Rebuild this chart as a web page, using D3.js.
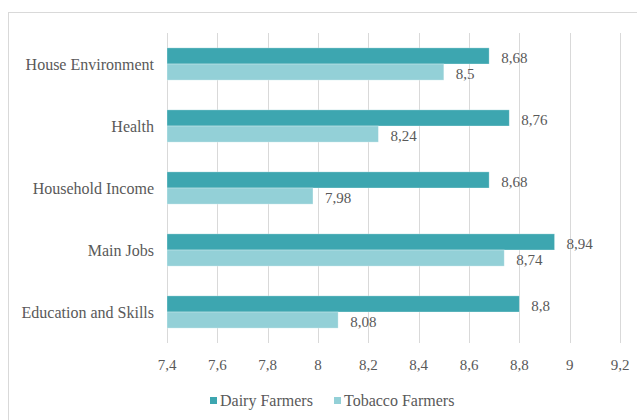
<!DOCTYPE html>
<html>
<head>
<meta charset="utf-8">
<script src="https://cdn.jsdelivr.net/npm/d3@7"></script>
<style>
  body { margin: 0; background: #fff; }
</style>
</head>
<body>
<div id="chart"></div>
<script>
// chart data
var categories = ['House Environment', 'Health', 'Household Income', 'Main Jobs', 'Education and Skills'];
var seriesNames = ['Dairy Farmers', 'Tobacco Farmers'];
var dairy = [8.68, 8.76, 8.68, 8.94, 8.8];
var tobacco = [8.5, 8.24, 7.98, 8.74, 8.08];
var tickValues = [7.4, 7.6, 7.8, 8, 8.2, 8.4, 8.6, 8.8, 9, 9.2];

var colors = ['#3DA6B0', '#93D0D7'];
var width = 637, height = 420;
var margin = { left: 167, right: 17, top: 33, bottom: 77 };
var serif = '"Liberation Serif", "Times New Roman", serif';

var svg = d3.select('#chart').append('svg')
    .attr('width', width)
    .attr('height', height);

// helper so every label gets the same font
function label(sel, size) {
    return sel.style('font-family', serif)
        .style('font-size', size + 'px')
        .style('fill', '#595959');
}

// outer frame
svg.append('rect')
    .attr('x', 8.5).attr('y', 12.5)
    .attr('width', width).attr('height', height)
    .attr('fill', 'none')
    .attr('stroke', '#d9d9d9');

var xScale = d3.scaleLinear()
    .domain([7.4, 9.2])
    .range([margin.left, width - margin.right]);

var yScale = d3.scaleBand()
    .domain(categories)
    .range([margin.top, height - margin.bottom])
    .paddingInner(0.48)
    .paddingOuter(0.24);

// gridlines
svg.append('g').selectAll('line')
    .data(tickValues)
    .enter().append('line')
    .attr('x1', function(d) { return Math.round(xScale(d)) + 0.5; })
    .attr('x2', function(d) { return Math.round(xScale(d)) + 0.5; })
    .attr('y1', margin.top)
    .attr('y2', height - margin.bottom)
    .attr('stroke', '#d9d9d9')
    .attr('stroke-width', 1);

var fmt = function(v) { return String(v).replace('.', ','); };

// tick labels
label(svg.append('g').selectAll('text')
    .data(tickValues)
    .enter().append('text')
    .attr('x', function(d) { return xScale(d); })
    .attr('y', 370)
    .attr('text-anchor', 'middle')
    .text(fmt), 15);

// category labels
label(svg.append('g').selectAll('text')
    .data(categories)
    .enter().append('text')
    .attr('x', 154)
    .attr('y', function(d) { return yScale(d) + yScale.bandwidth() / 2 + 6; })
    .attr('text-anchor', 'end')
    .text(function(d) { return d; }), 16);

var series = [dairy, tobacco];
var barH = yScale.bandwidth() / 2;

series.forEach(function(values, si) {
    var g = svg.append('g');
    g.selectAll('rect')
        .data(values)
        .enter().append('rect')
        .attr('x', xScale(7.4))
        .attr('y', function(d, i) { return yScale(categories[i]) + si * barH; })
        .attr('width', function(d) { return xScale(d) - xScale(7.4); })
        .attr('height', barH)
        .attr('fill', colors[si])
        .attr('stroke', '#fff')
        .attr('stroke-opacity', 0.4)
        .attr('stroke-width', 0.75);

    label(g.selectAll('text')
        .data(values)
        .enter().append('text')
        .attr('x', function(d) { return xScale(d) + 12; })
        .attr('y', function(d, i) { return yScale(categories[i]) + si * barH + barH / 2 + 7; })
        .text(fmt), 15);
});

// legend
var legend = svg.append('g').attr('transform', 'translate(210,400)');
var lx = [0, 124];
seriesNames.forEach(function(name, i) {
    legend.append('rect')
        .attr('x', lx[i]).attr('y', -3)
        .attr('width', 7).attr('height', 7)
        .attr('fill', colors[i]);
    label(legend.append('text')
        .attr('x', lx[i] + 10)
        .attr('y', 6)
        .text(name), 16);
});
</script>
</body>
</html>
